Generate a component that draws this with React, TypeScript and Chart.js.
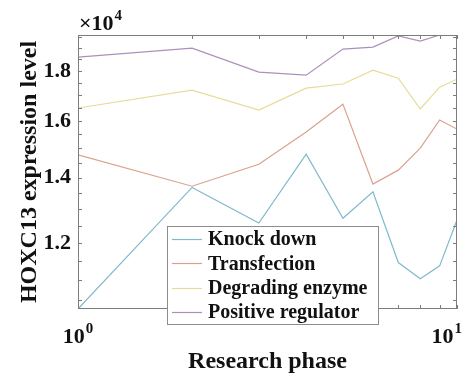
import React, { useEffect, useRef } from "react";
import { Chart, registerables } from "chart.js";

Chart.register(...registerables);

const PHASES = [1, 2, 3, 4, 5, 6, 7, 8, 9, 10];
const SERIES_NAMES = ["Knock down", "Transfection", "Degrading enzyme", "Positive regulator"];
const KNOCK_DOWN = [10270, 13680, 12580, 14800, 12720, 13540, 11460, 11030, 11370, 12670];
const TRANSFECTION = [14770, 13720, 14450, 15590, 16650, 13790, 14250, 15010, 16040, 15700];
const DEGRADING = [16500, 17210, 16420, 17290, 17460, 18040, 17700, 16460, 17330, 17660];
const POSITIVE = [18600, 19000, 17960, 17830, 18960, 19050, 19560, 19320, 19600, 19900];
const COLORS = ["#80b9cd", "#d9a28e", "#e6dc98", "#ab90ba"];

const Y_MIN = 10270;
const Y_MAX = 19600;
const Y_TICKS = [10500, 11000, 11500, 12000, 12500, 13000, 13500, 14000, 14500, 15000, 15500, 16000, 16500, 17000, 17500, 18000, 18500, 19000, 19500];
const Y_LABELED = [12000, 14000, 16000, 18000];
const X_TICKS = [1, 2, 3, 4, 5, 6, 7, 8, 9, 10];
const X_LABELED = [1, 10];

const FONT = "'Liberation Serif', 'Times New Roman', serif";

const decorPlugin = {
  id: "decor",
  afterDraw(chart: any) {
    const ctx = chart.ctx;
    const { left, right, top, bottom } = chart.chartArea;
    const xs = chart.scales.x;
    const ys = chart.scales.y;
    ctx.save();
    // box
    ctx.strokeStyle = "#7c7c7c";
    ctx.lineWidth = 1;
    ctx.strokeRect(left + 0.5, top + 0.5, right - left - 1, bottom - top - 1);
    // inward ticks
    ctx.beginPath();
    const tl = 4;
    X_TICKS.forEach((v) => {
      const px = Math.round(xs.getPixelForValue(v)) + 0.5;
      ctx.moveTo(px, bottom);
      ctx.lineTo(px, bottom - tl);
      ctx.moveTo(px, top);
      ctx.lineTo(px, top + tl);
    });
    Y_TICKS.forEach((v) => {
      const py = Math.round(ys.getPixelForValue(v)) + 0.5;
      ctx.moveTo(left, py);
      ctx.lineTo(left + tl, py);
      ctx.moveTo(right, py);
      ctx.lineTo(right - tl, py);
    });
    ctx.stroke();

    // x tick labels 10^n
    ctx.fillStyle = "#111";
    ctx.textBaseline = "middle";
    X_LABELED.forEach((v, k) => {
      const px = xs.getPixelForValue(v);
      const exp = String(Math.round(Math.log10(v)));
      ctx.font = `bold 22px ${FONT}`;
      const w1 = ctx.measureText("10").width;
      ctx.font = `bold 15px ${FONT}`;
      const w2 = ctx.measureText(exp).width;
      const total = w1 + w2 + 1;
      let x0 = px - total / 2;
      if (x0 + total > chart.width - 12) x0 = chart.width - 12 - total;
      ctx.textAlign = "left";
      ctx.font = `bold 22px ${FONT}`;
      ctx.fillText("10", x0, 337);
      ctx.font = `bold 15px ${FONT}`;
      ctx.fillText(exp, x0 + w1 + 1, 329);
    });

    // x10^4 multiplier
    ctx.textAlign = "left";
    ctx.font = `bold 22px ${FONT}`;
    const mw = ctx.measureText("\u00d710").width;
    ctx.fillText("\u00d710", left + 1, 24);
    ctx.font = `bold 15px ${FONT}`;
    ctx.fillText("4", left + 1 + mw + 1, 16);

    // legend
    const lx = 167, ly = 226, lw = 212, lh = 99;
    ctx.fillStyle = "#ffffff";
    ctx.fillRect(lx, ly, lw, lh);
    ctx.strokeStyle = "#8c8c8c";
    ctx.lineWidth = 1;
    ctx.strokeRect(lx + 0.5, ly + 0.5, lw - 1, lh - 1);
    ctx.font = `bold 20px ${FONT}`;
    ctx.textBaseline = "middle";
    SERIES_NAMES.forEach((name, i) => {
      const ry = 239 + i * 24.4;
      ctx.strokeStyle = COLORS[i];
      ctx.lineWidth = 1.2;
      ctx.beginPath();
      ctx.moveTo(172, Math.round(ry) + 0.5);
      ctx.lineTo(202, Math.round(ry) + 0.5);
      ctx.stroke();
      ctx.fillStyle = "#111";
      ctx.fillText(name, 208, ry + 1);
    });
    ctx.restore();
  },
};

export default function App() {
  const ref = useRef<HTMLCanvasElement | null>(null);
  useEffect(() => {
    if (!ref.current) return;
    const allSeries = [KNOCK_DOWN, TRANSFECTION, DEGRADING, POSITIVE];
    const chart = new Chart(ref.current, {
      type: "line",
      data: {
        datasets: allSeries.map((vals, i) => ({
          label: SERIES_NAMES[i],
          data: vals.map((v, j) => ({ x: PHASES[j], y: v })),
          borderColor: COLORS[i],
          backgroundColor: COLORS[i],
          borderWidth: 1.2,
          pointRadius: 0,
          tension: 0,
          fill: false,
        })),
      },
      options: {
        responsive: false,
        animation: false,
        devicePixelRatio: 1,
        layout: { padding: { top: 35, right: 17, left: 0, bottom: 0 } },
        plugins: {
          legend: { display: false },
          tooltip: { enabled: false },
        },
        scales: {
          x: {
            type: "logarithmic",
            min: 1,
            max: 10,
            afterBuildTicks: (s: any) => {
              s.ticks = X_TICKS.map((v) => ({ value: v }));
            },
            ticks: { display: false },
            grid: { display: false, drawTicks: false },
            border: { display: false },
            title: {
              display: true,
              text: "Research phase",
              color: "#111",
              font: { family: FONT, size: 24, weight: "bold" },
              padding: { top: 0, bottom: 5 },
            },
            afterFit: (s: any) => {
              s.height = 72;
            },
          },
          y: {
            type: "logarithmic",
            min: Y_MIN,
            max: Y_MAX,
            afterBuildTicks: (s: any) => {
              s.ticks = Y_TICKS.map((v) => ({ value: v }));
            },
            ticks: {
              autoSkip: false,
              color: "#111",
              padding: 7,
              font: { family: FONT, size: 22, weight: "bold" },
              callback: (v: any) => (Y_LABELED.includes(Number(v)) ? (Number(v) / 10000).toFixed(1) : ""),
            },
            grid: { display: false, drawTicks: false },
            border: { display: false },
            title: {
              display: true,
              text: "HOXC13 expression level",
              color: "#111",
              font: { family: FONT, size: 24, weight: "bold" },
              padding: { top: 15, bottom: 0 },
            },
            afterFit: (s: any) => {
              s.width = 78;
            },
          },
        },
      },
      plugins: [decorPlugin],
    } as any);
    return () => chart.destroy();
  }, []);
  return (
    <div style={{ position: "fixed", left: 0, top: 0, width: 474, height: 381, background: "#fff" }}>
      <canvas ref={ref} width={474} height={381} style={{ width: 474, height: 381 }} />
    </div>
  );
}
